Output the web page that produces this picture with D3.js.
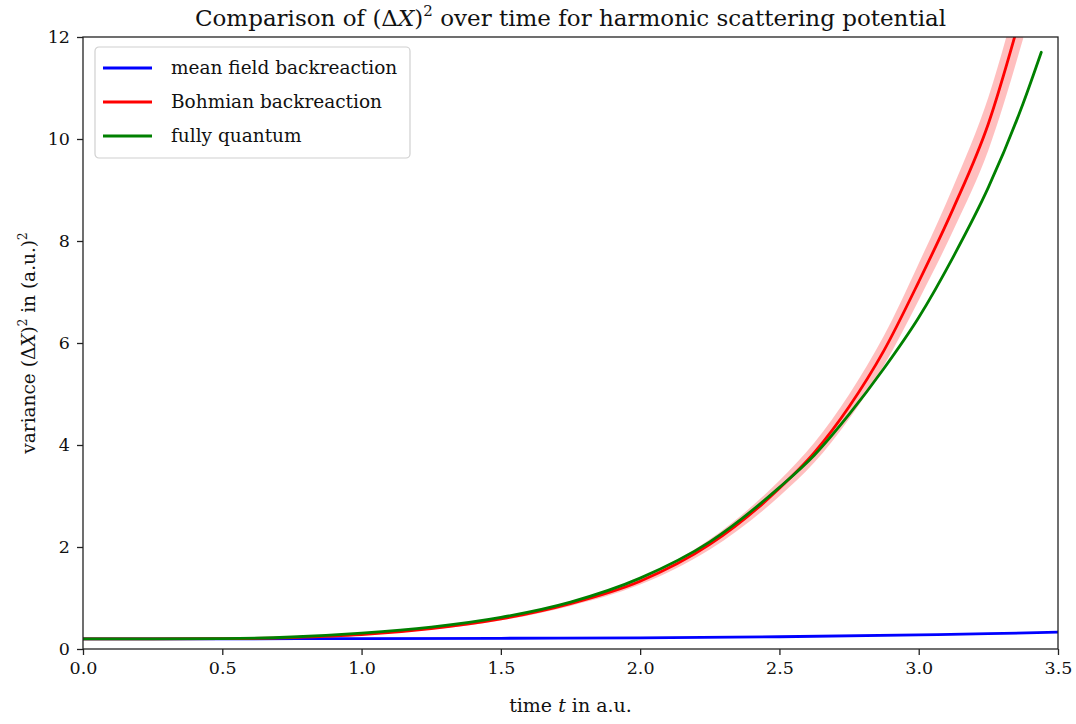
<!DOCTYPE html>
<html>
<head>
<meta charset="utf-8">
<script src="https://cdn.jsdelivr.net/npm/d3@7"></script>
<style>
  body { margin: 0; background: #fff; }
  svg { font-family: "DejaVu Serif", "Liberation Serif", serif; }
</style>
</head>
<body>
<svg id="chart"></svg>
<script>
const width = 1076;
const height = 724;

// time points (a.u.) and variance values
var meanFieldT = [0, 0.5, 1.0, 1.5, 2.0, 2.5, 3.0, 3.25, 3.5];
var meanField  = [0.2, 0.2, 0.205, 0.21, 0.22, 0.24, 0.275, 0.3, 0.33];

var bohmT      = [0, 0.25, 0.5, 0.75, 1.0, 1.25, 1.5, 1.75, 2.0, 2.25, 2.5, 2.625, 2.75, 2.875, 3.0, 3.125, 3.25, 3.375];
var bohm       = [0.2, 0.2, 0.203, 0.225, 0.28, 0.4, 0.59, 0.89, 1.33, 2.05, 3.15, 3.85, 4.75, 5.85, 7.2, 8.65, 10.3, 12.6];
var bohmSpread = [0.005, 0.005, 0.005, 0.01, 0.01, 0.02, 0.03, 0.045, 0.067, 0.1, 0.155, 0.195, 0.24, 0.29, 0.36, 0.43, 0.52, 0.63];

var quantumT   = [0, 0.25, 0.5, 0.75, 1.0, 1.25, 1.5, 1.75, 2.0, 2.25, 2.5, 2.625, 2.75, 2.875, 3.0, 3.125, 3.25, 3.375, 3.44];
var quantum    = [0.2, 0.2, 0.205, 0.235, 0.31, 0.43, 0.62, 0.92, 1.39, 2.1, 3.17, 3.8, 4.6, 5.5, 6.5, 7.7, 9.05, 10.7, 11.7];

var xTicks = [0, 0.5, 1.0, 1.5, 2.0, 2.5, 3.0, 3.5];
var yTicks = [0, 2, 4, 6, 8, 10, 12];

var legendNames  = ["mean field backreaction", "Bohmian backreaction", "fully quantum"];
var legendColors = ["#0000ff", "#ff0000", "#008000"];

var margin = {left: 83, right: 18, top: 37, bottom: 75};

var xScale = d3.scaleLinear().domain([0, 3.5]).range([margin.left, width - margin.right]);
var yScale = d3.scaleLinear().domain([0, 12]).range([height - margin.bottom, margin.top]);

var svg = d3.select("#chart").attr("width", width).attr("height", height);

svg.append("clipPath").attr("id", "plotclip")
    .append("rect")
    .attr("x", xScale(0)).attr("y", yScale(12))
    .attr("width", xScale(3.5) - xScale(0))
    .attr("height", yScale(0) - yScale(12));

var plot = svg.append("g").attr("clip-path", "url(#plotclip)");

function pairs(ts, vs) {
    return ts.map((t, i) => [t, vs[i]]);
}

var line = d3.line()
    .x(d => xScale(d[0]))
    .y(d => yScale(d[1]))
    .curve(d3.curveMonotoneX);

var band = d3.area()
    .x((d, i) => xScale(bohmT[i]))
    .y0((d, i) => yScale(bohm[i] - bohmSpread[i]))
    .y1((d, i) => yScale(bohm[i] + bohmSpread[i]))
    .curve(d3.curveMonotoneX);

plot.append("path")
    .attr("d", band(bohmT))
    .attr("fill", "#ff0000")
    .attr("fill-opacity", 0.25);

plot.append("path")
    .attr("d", line(pairs(meanFieldT, meanField)))
    .attr("fill", "none").attr("stroke", legendColors[0]).attr("stroke-width", 2.8);

plot.append("path")
    .attr("d", line(pairs(bohmT, bohm)))
    .attr("fill", "none").attr("stroke", legendColors[1]).attr("stroke-width", 2.8);

plot.append("path")
    .attr("d", line(pairs(quantumT, quantum)))
    .attr("fill", "none").attr("stroke", legendColors[2]).attr("stroke-width", 2.8)
    .attr("stroke-linecap", "round");

// axes
var xAxis = d3.axisBottom(xScale).tickValues(xTicks).tickFormat(d3.format(".1f")).tickSizeOuter(0).tickSize(6).tickPadding(7);
var yAxis = d3.axisLeft(yScale).tickValues(yTicks).tickFormat(d3.format("d")).tickSizeOuter(0).tickSize(6).tickPadding(7);

var gx = svg.append("g").attr("transform", `translate(0,${yScale(0)})`).call(xAxis);
var gy = svg.append("g").attr("transform", `translate(${xScale(0)},0)`).call(yAxis);
[gx, gy].forEach(g => {
    g.select(".domain").remove();
    g.selectAll(".tick line").attr("stroke", "#222").attr("stroke-width", 1.3);
    g.selectAll(".tick text")
        .attr("font-family", "DejaVu Serif").attr("font-size", 17.5).attr("fill", "#111");
});

// frame
svg.append("rect")
    .attr("x", xScale(0)).attr("y", yScale(12))
    .attr("width", xScale(3.5) - xScale(0))
    .attr("height", yScale(0) - yScale(12))
    .attr("fill", "none").attr("stroke", "#222").attr("stroke-width", 1.3);

// title
var title = svg.append("text")
    .attr("x", (xScale(0) + xScale(3.5)) / 2).attr("y", 26)
    .attr("text-anchor", "middle").attr("font-size", 23).attr("fill", "#111");
title.append("tspan").text("Comparison of (Δ");
title.append("tspan").text("X").attr("font-style", "italic");
title.append("tspan").text(")");
title.append("tspan").text("2").attr("font-size", 15).attr("dy", -10);
title.append("tspan").text(" over time for harmonic scattering potential").attr("dy", 10);

// x label
var xl = svg.append("text")
    .attr("x", (xScale(0) + xScale(3.5)) / 2).attr("y", 712)
    .attr("text-anchor", "middle").attr("font-size", 19).attr("fill", "#111");
xl.append("tspan").text("time ");
xl.append("tspan").text("t").attr("font-style", "italic");
xl.append("tspan").text(" in a.u.");

// y label
var yl = svg.append("text")
    .attr("transform", `translate(35,${(yScale(0) + yScale(12)) / 2}) rotate(-90)`)
    .attr("text-anchor", "middle").attr("font-size", 18.5).attr("fill", "#111");
yl.append("tspan").text("variance (Δ");
yl.append("tspan").text("X").attr("font-style", "italic");
yl.append("tspan").text(")");
yl.append("tspan").text("2").attr("font-size", 12).attr("dy", -8);
yl.append("tspan").text(" in (a.u.)").attr("dy", 8);
yl.append("tspan").text("2").attr("font-size", 12).attr("dy", -8);

// legend
var legend = svg.append("g").attr("transform", "translate(95,47)");
legend.append("rect")
    .attr("width", 315).attr("height", 111).attr("rx", 4)
    .attr("fill", "#fff").attr("fill-opacity", 0.8)
    .attr("stroke", "#d0d0d0").attr("stroke-width", 1.2);

var items = legend.selectAll("g.item")
    .data(legendNames)
    .enter()
    .append("g")
    .attr("class", "item")
    .attr("transform", (d, i) => `translate(0,${21 + i * 34})`);

items.append("line")
    .attr("x1", 8).attr("x2", 57).attr("y1", 0).attr("y2", 0)
    .attr("stroke", (d, i) => legendColors[i]).attr("stroke-width", 2.8);

items.append("text")
    .attr("x", 76).attr("y", 6)
    .attr("font-size", 18.5).attr("fill", "#111")
    .text(d => d);
</script>
</body>
</html>
